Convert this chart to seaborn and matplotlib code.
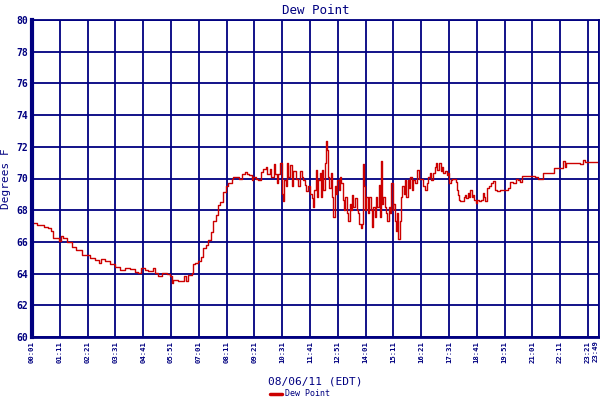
import pandas as pd
import matplotlib
matplotlib.use("Agg")
import matplotlib.pyplot as plt
from matplotlib.lines import Line2D
import seaborn as sns

# minutes after midnight, dew point in F
minutes = [
    1, 13, 30, 42, 48, 53, 63, 70, 74, 80, 90, 101, 113, 126, 139, 147, 160, 170, 175, 185,
    197, 210, 223, 235, 248, 260, 269, 275, 285, 294, 305, 311, 319, 328, 340, 348, 353, 357,
    369, 378, 384, 389, 395, 403, 407, 411, 420, 426, 431, 439, 445, 451, 457, 464, 469, 474,
    483, 490, 495, 504, 508, 516, 523, 529, 537, 543, 548, 554, 558, 565, 571, 577, 583, 590,
    593, 600, 604, 610, 613, 617, 621, 626, 630, 632, 636, 640, 642, 646, 651, 655, 659, 666,
    672, 676, 680, 684, 688, 692, 696, 701, 705, 709, 711, 716, 720, 722, 726, 728, 731, 735,
    738, 741, 743, 746, 749, 753, 756, 760, 763, 767, 770, 773, 777, 780, 784, 787, 790, 794,
    798, 801, 804, 806, 810, 815, 819, 822, 825, 829, 832, 834, 837, 840, 843, 847, 850, 854,
    857, 860, 864, 867, 870, 874, 877, 880, 883, 886, 890, 893, 896, 900, 903, 906, 909, 911,
    914, 917, 920, 924, 927, 930, 934, 937, 940, 944, 947, 950, 954, 957, 961, 965, 970, 975,
    978, 986, 990, 995, 999, 1003, 1007, 1011, 1015, 1018, 1022, 1026, 1030, 1033, 1037, 1041,
    1045, 1049, 1051, 1055, 1060, 1064, 1068, 1072, 1074, 1077, 1080, 1085, 1088, 1092, 1095,
    1099, 1102, 1105, 1108, 1112, 1114, 1118, 1122, 1127, 1131, 1136, 1139, 1142, 1146, 1151,
    1156, 1161, 1166, 1171, 1179, 1192, 1200, 1204, 1212, 1219, 1225, 1230, 1235, 1242, 1259,
    1268, 1276, 1284, 1289, 1301, 1312, 1315, 1335, 1339, 1343, 1347, 1376, 1381, 1385, 1388,
    1394, 1423, 1429,
]
dew_point = [
    67.2, 67.05, 66.95, 66.9, 66.7, 66.25, 66.25, 66.05, 66.4, 66.25, 66.0, 65.7, 65.5, 65.2,
    65.2, 65.0, 64.85, 64.7, 64.9, 64.8, 64.6, 64.4, 64.25, 64.35, 64.3, 64.1, 64.05, 64.35,
    64.25, 64.15, 64.35, 64.05, 63.85, 64.05, 64.0, 63.85, 63.4, 63.6, 63.55, 63.55, 63.85,
    63.55, 63.9, 64.05, 64.6, 64.7, 64.8, 65.05, 65.6, 65.8, 66.1, 66.6, 67.3, 67.7, 68.3, 68.5,
    69.15, 69.5, 69.7, 69.95, 70.1, 70.1, 70.0, 70.27, 70.4, 70.3, 70.2, 69.9, 70.1, 69.95,
    69.9, 70.4, 70.6, 70.75, 70.3, 70.6, 70.1, 70.9, 70.3, 69.7, 70.3, 71.0, 69.05, 68.6, 69.9,
    69.5, 71.0, 70.1, 70.85, 69.5, 70.5, 70.0, 69.5, 70.45, 70.1, 69.9, 69.6, 69.2, 69.5, 69.05,
    68.75, 68.2, 69.3, 70.55, 68.85, 69.9, 70.35, 68.85, 70.55, 69.3, 71.0, 72.35, 71.8, 70.1,
    69.4, 70.35, 68.85, 67.55, 69.5, 69.05, 69.9, 69.3, 70.1, 69.7, 68.65, 68.0, 68.85, 67.8,
    67.35, 68.4, 68.0, 68.95, 68.2, 68.75, 68.0, 67.8, 67.15, 66.85, 67.15, 70.9, 69.5, 68.0,
    68.85, 67.8, 68.85, 68.0, 66.95, 68.2, 67.55, 68.85, 68.2, 69.6, 67.55, 71.1, 68.4, 68.85,
    68.2, 67.8, 67.35, 68.2, 67.8, 69.7, 68.0, 68.4, 67.35, 66.7, 67.8, 66.2, 67.35, 68.85, 69.5,
    69.05, 69.9, 68.85, 69.9, 69.4, 70.1, 69.3, 69.9, 69.7, 70.55, 70.0, 70.0, 69.5, 69.3, 69.7,
    70.1, 70.35, 69.9, 70.35, 70.75, 71.0, 70.55, 71.0, 70.45, 70.75, 70.35, 70.45, 70.25, 70.35,
    69.7, 69.9, 70.0, 69.95, 69.8, 69.3, 68.95, 68.65, 68.6, 68.55, 68.85, 68.95, 68.75, 69.1,
    68.85, 69.3, 68.85, 68.95, 68.65, 68.45, 68.65, 68.55, 68.65, 69.1, 68.85, 68.6, 69.4, 69.5,
    69.7, 69.85, 69.3, 69.2, 69.3, 69.3, 69.4, 69.8, 69.7, 70.0, 69.9, 69.8, 70.15, 70.15, 70.15,
    70.1, 70.0, 70.0, 70.35, 70.35, 70.35, 70.65, 70.65, 71.1, 70.75, 71.0, 71.0, 70.9, 70.9,
    71.15, 71.05, 71.05, 71.15,
]

tick_minutes = [1, 71, 141, 211, 281, 351, 421, 491, 561, 631, 701, 771, 841, 911, 981,
                1051, 1121, 1191, 1261, 1331, 1401, 1429]
tick_labels = ["00:01", "01:11", "02:21", "03:31", "04:41", "05:51", "07:01", "08:11",
               "09:21", "10:31", "11:41", "12:51", "14:01", "15:11", "16:21", "17:31",
               "18:41", "19:51", "21:01", "22:11", "23:21", "23:49"]
y_ticks = [60, 62, 64, 66, 68, 70, 72, 74, 76, 78, 80]

navy = "#000080"
red = "#cc0000"

df = pd.DataFrame({"minute": minutes, "Dew Point": dew_point})

sns.set_style("white")
plt.rcParams["font.family"] = ["DejaVu Sans Mono", "DejaVu Sans"]

fig = plt.figure(figsize=(6, 4), dpi=100)
ax = fig.add_axes([32 / 600, 1 - 337 / 400, 567 / 600, 317 / 400])

sns.lineplot(data=df, x="minute", y="Dew Point", ax=ax, color=red, linewidth=1.0,
             drawstyle="steps-post", legend=False)

tick_font = dict(rotation=90, fontsize=5.2, fontweight="bold", color=navy)
ax.set_xlim(1, 1429)
ax.set_ylim(60, 80)
ax.set_xticks(tick_minutes)
# the last label sits on the right edge; draw it separately, nudged inside the figure
ax.set_xticklabels(tick_labels[:-1] + [""], **tick_font)
ax.annotate(tick_labels[-1], xy=(tick_minutes[-1], 0), xycoords=("data", "axes fraction"),
            xytext=(-3.6, -3), textcoords="offset pixels", ha="center", va="top", **tick_font)
ax.set_yticks(y_ticks)
ax.set_yticklabels([str(v) for v in y_ticks], fontsize=7, fontweight="bold", color=navy)
ax.tick_params(axis="both", length=0, pad=3)

ax.grid(True, color=navy, linewidth=1.3)
ax.set_axisbelow(True)
for side, sp in ax.spines.items():
    sp.set_color(navy)
    sp.set_linewidth(1.3)
ax.spines["left"].set_linewidth(3)
ax.spines["bottom"].set_linewidth(2)

ax.set_title("Dew Point", fontsize=9, color=navy, pad=4)
ax.set_xlabel("08/06/11 (EDT)", fontsize=8, color=navy, labelpad=10)
ax.set_ylabel("Degrees F", fontsize=8, color=navy, labelpad=4)

handle = Line2D([], [], color=red, linewidth=2.5)
fig.legend(handles=[handle], labels=["Dew Point"], loc="center",
           bbox_to_anchor=(0.5, 1 - 394 / 400), frameon=False, fontsize=6,
           labelcolor=navy, handlelength=1.5, handletextpad=0.4)

fig.savefig("out.png", dpi=100)
